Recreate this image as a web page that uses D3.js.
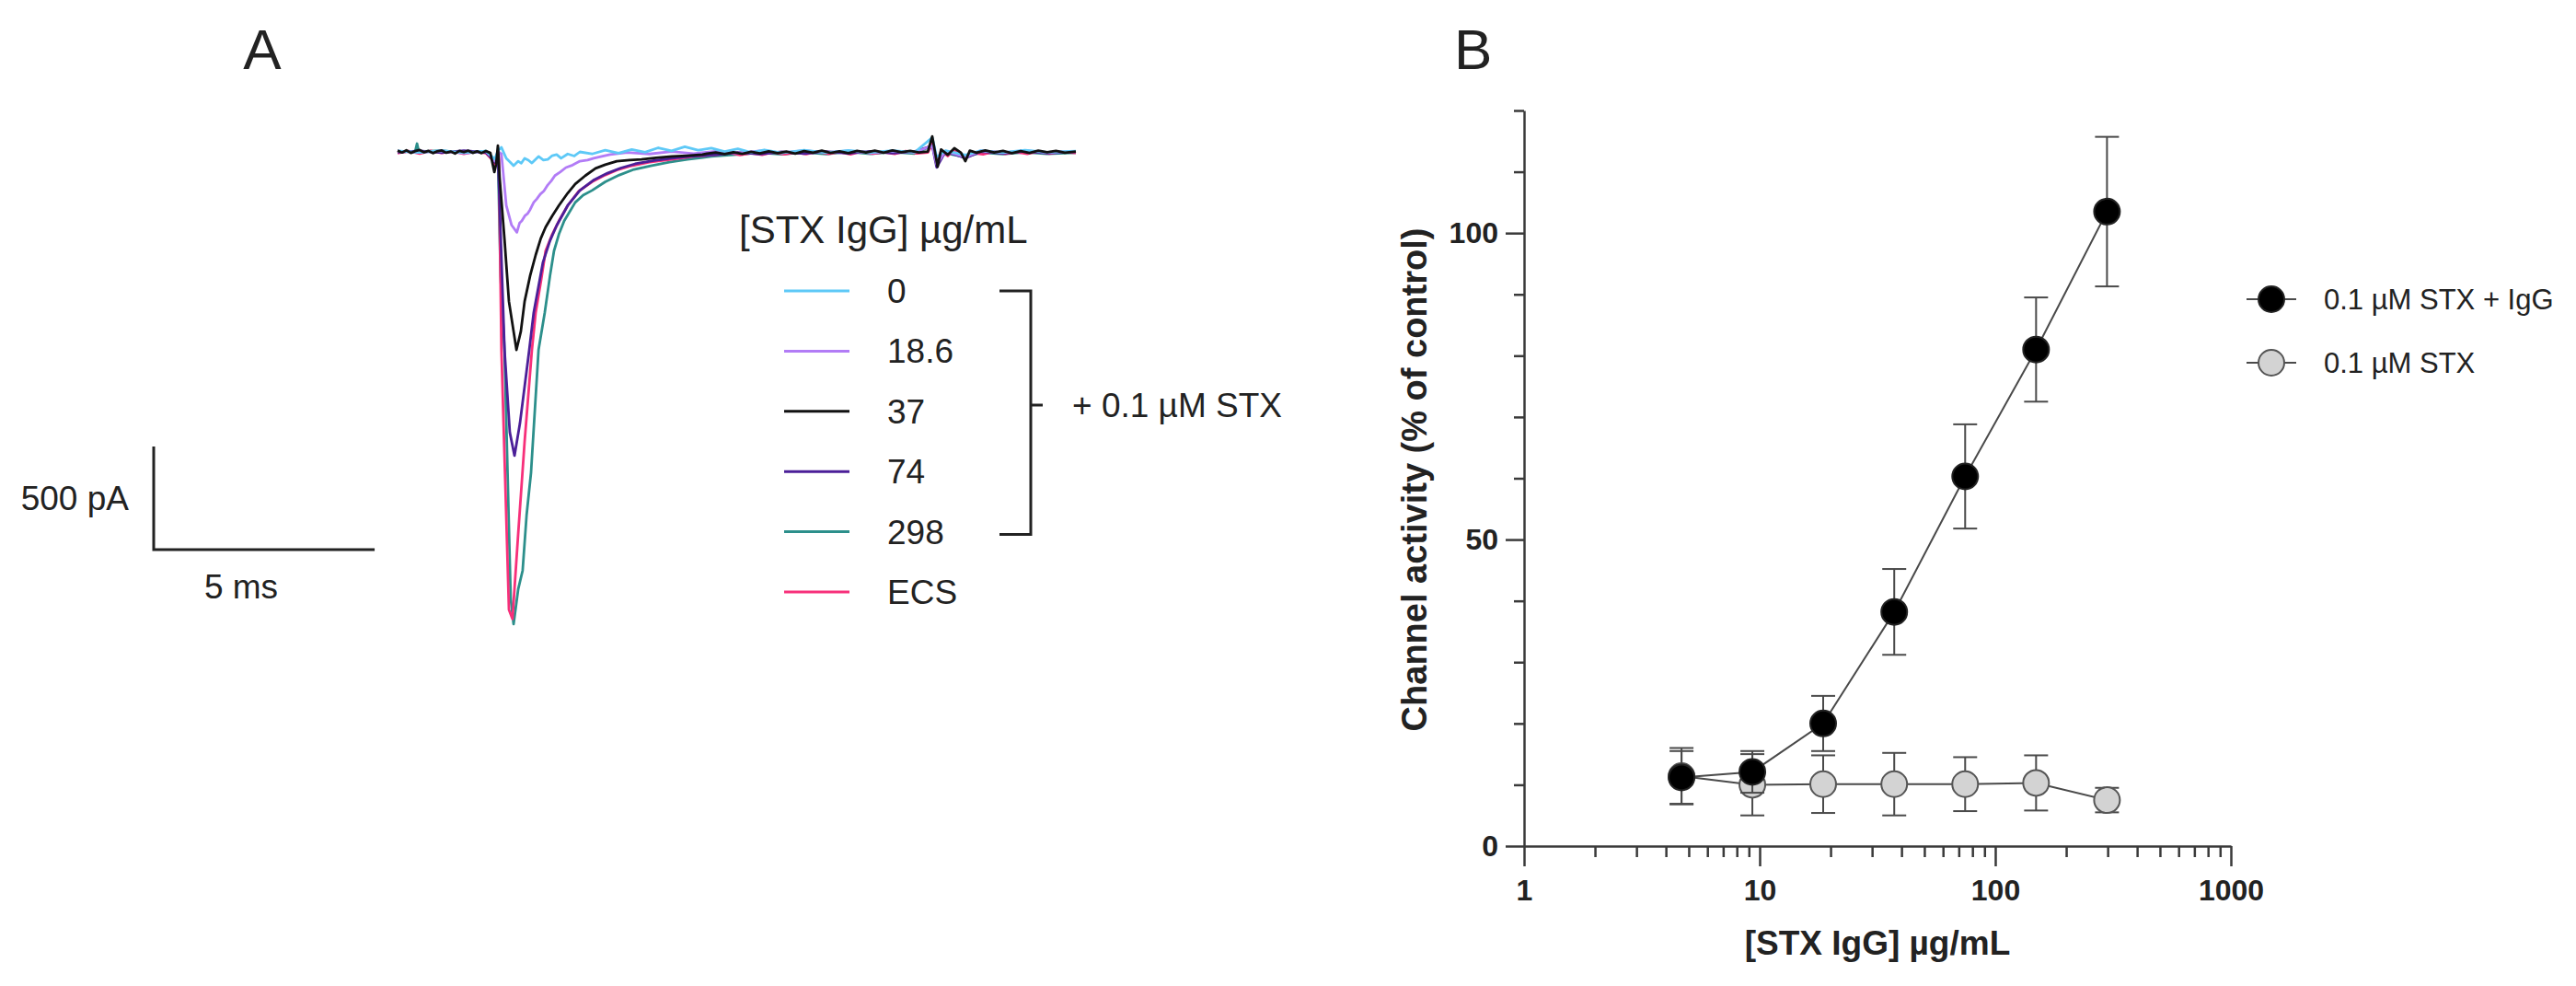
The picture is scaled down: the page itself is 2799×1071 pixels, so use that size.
<!DOCTYPE html>
<html>
<head>
<meta charset="utf-8">
<script src="https://d3js.org/d3.v7.min.js"></script>
<style>
  body { margin: 0; background: #fff; }
  svg { display: block; font-family: 'Liberation Sans', Arial, sans-serif; fill: #222; }
  .trace { fill: none; stroke-width: 2.8; stroke-linejoin: round; }
  .bar { fill: none; stroke: #222; stroke-width: 3; }
  .axis path, .axis line { stroke: #3a3a3a; stroke-width: 2.5; }
  .axis text { font-family: 'Liberation Sans', Arial, sans-serif; font-weight: bold; font-size: 32px; fill: #222; }
  .link { fill: none; stroke: #4a4a4a; stroke-width: 2; }
  .err { stroke: #4a4a4a; stroke-width: 2; }
</style>
</head>
<body>
<script>
// ---------- panel A: whole-cell current traces (t in ms, I in pA) ----------
const traceLabels = ['0', '18.6', '37', '74', '298', 'ECS'];
const traceColors = ['#5ec9f7', '#b27cf6', '#111111', '#4b1f98', '#2c8f8b', '#f7307a'];

const trace0 = [[0,5],[0.5,-3],[1.0,6],[1.5,-4],[2.0,4],[2.15,-25],[2.2,-35],[2.27,5],
  [2.35,22],[2.46,-31],[2.55,-50],[2.625,-67],[2.73,-45],[2.8,-55],[2.875,-31],[2.96,-40],[3.04,-54],
  [3.19,-22],[3.3,-40],[3.4,-36],[3.5,-18],[3.6,-13],[3.7,-31],[3.85,-10],[4.0,-20],[4.125,0],
  [4.4,-10],[4.7,8],[5.0,-6],[5.3,12],[5.6,-2],[5.9,20],[6.2,5],[6.5,25],[6.8,8],[7.1,18],[7.4,2],
  [7.7,15],[8.0,-3],[8.3,10],[8.7,-5],[9.2,8],[9.7,-4],[10.2,7],[10.7,-3],[11.2,6],[11.7,-2],
  [12.1,70],[12.2,-25],[12.4,6],[12.85,-15],[13.2,6],[13.7,-3],[14.2,8],[14.7,-2],[15.35,4]];

const trace18 = [[0,4],[0.5,-3],[1.0,5],[1.5,-6],[2.0,3],[2.15,-30],[2.2,-45],[2.27,0],
  [2.35,-9],[2.46,-260],[2.58,-355],[2.7,-390],[2.76,-345],[2.81,-335],[2.88,-310],[2.94,-300],
  [3.0,-280],[3.08,-245],[3.15,-228],[3.23,-205],[3.31,-190],[3.4,-160],[3.48,-140],[3.56,-115],
  [3.68,-98],[3.81,-76],[3.96,-64],[4.125,-45],[4.3,-40],[4.44,-31],[4.62,-22],[4.81,-13],
  [5.2,-3],[5.7,-10],[6.2,2],[6.7,-8],[7.2,3],[7.7,-6],[8.2,5],[8.7,-4],[9.2,6],[9.7,-3],[10.2,5],
  [10.7,-5],[11.2,4],[11.7,-2],[12.1,30],[12.2,-60],[12.4,4],[12.85,-25],[13.2,5],[13.7,-4],
  [14.2,6],[14.7,-3],[15.35,3]];

const trace37 = [[0,6],[0.1,-3],[0.2,8],[0.3,-5],[0.4,4],[0.5,9],[0.6,-2],[0.7,5],[0.8,-6],[0.9,3],
  [1.0,7],[1.1,-4],[1.2,2],[1.3,-8],[1.4,5],[1.5,-1],[1.6,6],[1.7,-5],[1.8,3],[1.9,-6],[2.0,4],
  [2.1,-5],[2.19,-98],[2.23,-60],[2.27,31],
  [2.31,-125],[2.42,-425],[2.52,-725],[2.69,-960],[2.79,-870],[2.875,-725],[3.0,-600],[3.125,-500],
  [3.24,-420],[3.35,-365],[3.5,-310],[3.65,-260],[3.85,-200],[4.02,-156],[4.25,-115],[4.48,-80],
  [4.7,-62],[4.96,-45],[5.25,-40],[5.52,-36],[5.85,-28],[6.21,-22],[6.55,-18],[6.9,-13],
  [7.0,-8],[7.2,-3],[7.4,-11],[7.6,-2],[7.8,-9],[8.0,1],[8.2,-7],[8.4,3],[8.6,-6],[8.8,2],[9.0,-8],
  [9.2,4],[9.4,-4],[9.6,6],[9.8,-5],[10.0,3],[10.2,-6],[10.4,5],[10.6,-3],[10.8,6],[11.0,-4],
  [11.2,7],[11.4,-2],[11.6,5],[11.8,-3],[12.0,2],
  [12.1,75],[12.17,-10],[12.22,-72],[12.3,12],[12.45,-14],[12.6,18],[12.75,-4],[12.85,-45],[12.95,6],
  [13.1,-4],[13.3,7],[13.5,-3],[13.7,5],[13.9,-6],[14.1,4],[14.3,-5],[14.5,6],[14.7,-2],[14.9,5],
  [15.1,-4],[15.35,2]];

const trace74 = [[0,-2],[0.5,5],[1.0,-4],[1.5,6],[2.0,-3],[2.15,-35],[2.2,-50],[2.27,0],
  [2.42,-960],[2.54,-1360],[2.646,-1473],[2.77,-1315],[2.98,-960],[3.08,-780],[3.29,-535],[3.45,-430],
  [3.6,-357],[3.85,-260],[4.125,-187],[4.45,-135],[4.75,-103],[5.05,-78],[5.375,-58],[5.8,-42],
  [6.21,-31],[6.7,-20],[7.25,-13],
  [7.7,-3],[8.2,-10],[8.7,0],[9.2,-8],[9.7,2],[10.2,-7],[10.7,3],[11.2,-6],[11.7,2],[12.1,30],
  [12.2,-75],[12.4,3],[12.85,-30],[13.2,2],[13.7,-7],[14.2,3],[14.7,-6],[15.35,1]];

const trace298 = [[0,3],[0.4,3],[0.44,40],[0.48,2],[1.0,6],[1.5,-5],[2.0,4],[2.15,-30],[2.2,-55],[2.27,0],
  [2.33,-600],[2.42,-960],[2.56,-2165],[2.625,-2290],[2.73,-2120],[2.83,-2030],[2.92,-1760],[3.02,-1555],
  [3.19,-960],[3.33,-780],[3.45,-600],[3.54,-480],[3.65,-400],[3.77,-335],[4.02,-245],[4.2,-210],
  [4.4,-187],[4.7,-145],[5.02,-112],[5.35,-85],[5.73,-67],[6.15,-50],[6.56,-36],[7.1,-22],[7.67,-13],
  [8.2,-4],[8.7,-12],[9.2,-2],[9.7,-10],[10.2,1],[10.7,-9],[11.2,-1],[11.7,-8],[12.1,30],[12.2,-45],
  [12.4,-6],[12.85,-25],[13.2,-3],[13.7,-11],[14.2,-2],[14.7,-9],[15.35,-4]];

const traceECS = [[0,-6],[0.25,4],[0.5,-8],[0.75,5],[1.0,-5],[1.25,3],[1.5,-9],[1.75,2],[2.0,-6],
  [2.15,-40],[2.2,-60],[2.27,-10],
  [2.29,0],[2.35,-960],[2.52,-2220],[2.6,-2265],[2.73,-1850],[2.875,-1405],[3.04,-960],[3.125,-780],
  [3.25,-620],[3.35,-480],[3.5,-400],[3.65,-335],[3.85,-260],[4.1,-190],[4.4,-145],[4.7,-112],
  [5.0,-85],[5.3,-67],[5.7,-50],[6.2,-36],[6.7,-22],[7.25,-13],
  [7.5,-4],[7.75,-15],[8.0,-6],[8.25,-14],[8.5,-2],[8.75,-12],[9.0,-3],[9.25,-11],[9.5,2],[9.75,-9],
  [10.0,-1],[10.25,-12],[10.5,3],[10.75,-8],[11.0,-2],[11.25,-10],[11.5,4],[11.75,-7],[12.0,-3],
  [12.1,40],[12.2,-55],[12.3,5],[12.45,-20],[12.6,10],[12.85,-30],[13.0,-5],[13.25,-12],[13.5,2],
  [13.75,-10],[14.0,-1],[14.25,-9],[14.5,3],[14.75,-8],[15.0,1],[15.35,-5]];

const traces = [trace0, trace18, trace37, trace74, trace298, traceECS];
// which trace lands on top: teal first, black last
const drawOrder = [4, 5, 3, 1, 0, 2];

// ---------- panel B: dose response ----------
const iggConc = [4.66, 9.31, 18.6, 37.25, 74.5, 149, 298];
const stxIggMean = [11.2, 12.1, 20.0, 38.2, 60.3, 81.0, 103.5];
const stxIggErr = [4.3, 3.4, 4.5, 7.0, 8.5, 8.5, 12.2];
const stxMean = [11.4, 10.0, 10.1, 10.1, 10.1, 10.3, 7.5];
const stxErr = [4.6, 5.0, 4.7, 5.1, 4.4, 4.5, 2.0];
const seriesNames = ['0.1 µM STX + IgG', '0.1 µM STX'];
const seriesFill = ['#000000', '#d3d3d3'];
const seriesStroke = ['#222222', '#555555'];
const yTicksMajor = [0, 50, 100];
const yTicksMinor = [10, 20, 30, 40, 60, 70, 80, 90, 110, 120];
const xTicksMajor = [1, 10, 100, 1000];

const svg = d3.select('body').append('svg')
  .attr('width', 2799)
  .attr('height', 1071);

function drawTraces() {
  // 48 px per ms, 0.224 px per pA
  const tX = d3.scaleLinear().domain([0, 15.35]).range([432, 1169]);
  const iY = d3.scaleLinear().domain([0, -2400]).range([165, 702.6]);

  const line = d3.line().x(d => tX(d[0])).y(d => iY(d[1]));

  svg.append('g').selectAll('path')
    .data(drawOrder)
    .join('path')
    .attr('class', 'trace')
    .attr('stroke', i => traceColors[i])
    .attr('d', i => line(traces[i]));

  // scale bar, sized with the same scales
  const barX = 167, barY = 597;
  const barH = iY(-500) - iY(0);
  const barW = tX(5) - tX(0);
  svg.append('path')
    .attr('class', 'bar')
    .attr('d', 'M' + barX + ',' + (barY - barH) + 'V' + barY + 'H' + (barX + barW));
  svg.append('text')
    .attr('x', barX - 27).attr('y', barY - barH / 2 + 13)
    .attr('text-anchor', 'end')
    .attr('font-size', 37)
    .text('500 pA');
  svg.append('text')
    .attr('x', barX + barW / 2 - 25).attr('y', 650)
    .attr('text-anchor', 'middle')
    .attr('font-size', 37)
    .text('5 ms');

  // legend
  const rowY = d3.scalePoint().domain(traceLabels).range([316, 643]);
  svg.append('text')
    .attr('x', 803).attr('y', 264)
    .attr('font-size', 42)
    .text('[STX IgG] µg/mL');

  const rows = svg.append('g').selectAll('g')
    .data(traceLabels)
    .join('g')
    .attr('transform', d => 'translate(0,' + rowY(d) + ')');
  rows.append('line')
    .attr('x1', 852).attr('x2', 923)
    .attr('stroke', (d, i) => traceColors[i])
    .attr('stroke-width', 3);
  rows.append('text')
    .attr('x', 964).attr('dy', '0.35em')
    .attr('font-size', 37)
    .text(d => d);

  // bracket for the STX-containing rows
  const top = rowY('0'), bottom = rowY('298') + 3, mid = 440;
  svg.append('path')
    .attr('class', 'bar')
    .attr('d', 'M1086,' + top + 'H1120V' + bottom + 'H1086M1120,' + mid + 'H1133');
  svg.append('text')
    .attr('x', 1165).attr('y', mid).attr('dy', '0.36em')
    .attr('font-size', 37)
    .text('+ 0.1 µM STX');
}

function drawDoseResponse() {
  const x = d3.scaleLog().domain([1, 1000]).range([1656, 2424]);
  const y = d3.scaleLinear().domain([0, 120]).range([919, 120]);

  const xMinor = xTicksMajor.slice(0, -1).flatMap(d => [2, 3, 4, 5, 6, 7, 8, 9].map(k => k * d));

  // axes
  const gy = svg.append('g').attr('class', 'axis').attr('transform', 'translate(1656,0)');
  gy.call(d3.axisLeft(y).tickValues(yTicksMajor).tickSize(20).tickSizeOuter(0).tickPadding(8).tickFormat(d3.format('d')));
  const gyMinor = svg.append('g').attr('class', 'axis').attr('transform', 'translate(1656,0)');
  gyMinor.call(d3.axisLeft(y).tickValues(yTicksMinor).tickSize(11).tickFormat(''));
  gyMinor.select('.domain').remove();

  const gx = svg.append('g').attr('class', 'axis').attr('transform', 'translate(0,919)');
  gx.call(d3.axisBottom(x).tickValues(xTicksMajor).tickSize(22).tickSizeOuter(0).tickPadding(14).tickFormat(d3.format('d')));
  const gxMinor = svg.append('g').attr('class', 'axis').attr('transform', 'translate(0,919)');
  gxMinor.call(d3.axisBottom(x).tickValues(xMinor).tickSize(12).tickFormat(''));
  gxMinor.select('.domain').remove();

  svg.append('text')
    .attr('transform', 'translate(1550,521) rotate(-90)')
    .attr('text-anchor', 'middle')
    .attr('font-size', 38).attr('font-weight', 'bold')
    .text('Channel activity (% of control)');
  svg.append('text')
    .attr('x', 2040).attr('y', 1037)
    .attr('text-anchor', 'middle')
    .attr('font-size', 37).attr('font-weight', 'bold')
    .text('[STX IgG] µg/mL');

  const series = [
    iggConc.map((c, i) => ({ c: c, m: stxIggMean[i], e: stxIggErr[i] })),
    iggConc.map((c, i) => ({ c: c, m: stxMean[i], e: stxErr[i] }))
  ];

  const line = d3.line().x(d => x(d.c)).y(d => y(d.m));
  const CAP = 13, R = 14;

  // grey series underneath, black on top
  [1, 0].forEach(s => {
    const g = svg.append('g');
    g.append('path').attr('class', 'link').attr('d', line(series[s]));

    const bars = g.selectAll('.eb').data(series[s]).join('g').attr('class', 'eb');
    bars.append('line').attr('class', 'err')
      .attr('x1', d => x(d.c)).attr('x2', d => x(d.c))
      .attr('y1', d => y(d.m + d.e)).attr('y2', d => y(d.m - d.e));
    bars.append('line').attr('class', 'err')
      .attr('x1', d => x(d.c) - CAP).attr('x2', d => x(d.c) + CAP)
      .attr('y1', d => y(d.m + d.e)).attr('y2', d => y(d.m + d.e));
    bars.append('line').attr('class', 'err')
      .attr('x1', d => x(d.c) - CAP).attr('x2', d => x(d.c) + CAP)
      .attr('y1', d => y(d.m - d.e)).attr('y2', d => y(d.m - d.e));

    g.selectAll('circle').data(series[s]).join('circle')
      .attr('cx', d => x(d.c)).attr('cy', d => y(d.m))
      .attr('r', R)
      .attr('fill', seriesFill[s])
      .attr('stroke', seriesStroke[s])
      .attr('stroke-width', 2);
  });

  // legend
  const legY = d3.scalePoint().domain(seriesNames).range([325, 394]);
  const leg = svg.append('g').selectAll('g')
    .data(seriesNames)
    .join('g')
    .attr('transform', d => 'translate(0,' + legY(d) + ')');
  leg.append('line')
    .attr('x1', 2441).attr('x2', 2495)
    .attr('class', 'link');
  leg.append('circle')
    .attr('cx', 2468).attr('r', R)
    .attr('fill', (d, i) => seriesFill[i])
    .attr('stroke', (d, i) => seriesStroke[i])
    .attr('stroke-width', 2);
  leg.append('text')
    .attr('x', 2525).attr('dy', '0.36em')
    .attr('font-size', 31)
    .text(d => d);
}

// panel letters
svg.append('text').attr('x', 285).attr('y', 75).attr('text-anchor', 'middle').attr('font-size', 62).text('A');
svg.append('text').attr('x', 1580).attr('y', 75).attr('font-size', 62).text('B');

drawTraces();
drawDoseResponse();
</script>
</body>
</html>
